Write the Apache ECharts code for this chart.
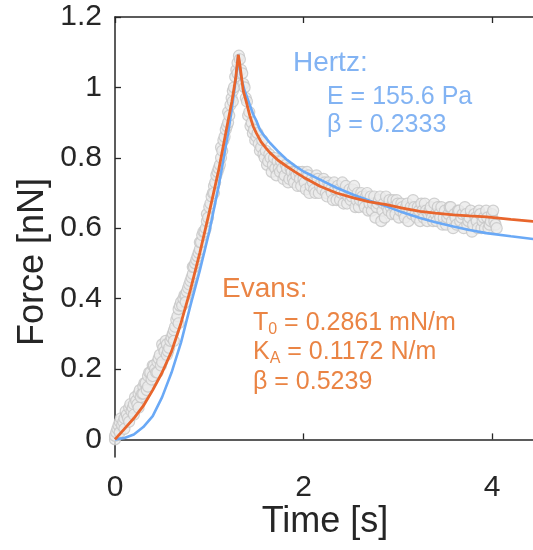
<!DOCTYPE html>
<html>
<head>
<meta charset="utf-8">
<script src="https://cdn.jsdelivr.net/npm/echarts@6/dist/echarts.min.js"></script>
<style>
  html, body { margin: 0; padding: 0; background: #fff; }
  #chart { width: 533px; height: 550px; }
</style>
</head>
<body>
<div id="chart"></div>
<script>
// Measured force during the indentation ramp
const loadingPoints = [
  [0.000, 0.00], [0.000, 0.01], [0.0125, 0.02], [0.025, 0.03], [0.0375, 0.04],
  [0.050, 0.02], [0.050, 0.05], [0.0625, 0.06], [0.075, 0.04], [0.0875, 0.05],
  [0.100, 0.06], [0.100, 0.03], [0.1125, 0.08], [0.125, 0.07], [0.1375, 0.06],
  [0.150, 0.05], [0.150, 0.09], [0.1625, 0.10], [0.175, 0.08], [0.1875, 0.09],
  [0.200, 0.10], [0.200, 0.07], [0.2125, 0.12], [0.225, 0.11], [0.2375, 0.10],
  [0.250, 0.13], [0.250, 0.09], [0.2625, 0.14], [0.275, 0.12], [0.2875, 0.13],
  [0.300, 0.15], [0.300, 0.13], [0.3125, 0.16], [0.325, 0.16], [0.3375, 0.14],
  [0.350, 0.18], [0.350, 0.15], [0.3625, 0.19], [0.375, 0.19], [0.3875, 0.17],
  [0.400, 0.18], [0.400, 0.21], [0.4125, 0.21], [0.425, 0.20], [0.4375, 0.19],
  [0.450, 0.22], [0.450, 0.19], [0.4625, 0.23], [0.475, 0.24], [0.4875, 0.21],
  [0.500, 0.22], [0.500, 0.27], [0.5125, 0.26], [0.525, 0.25], [0.5375, 0.28],
  [0.550, 0.27], [0.550, 0.24], [0.5625, 0.25], [0.575, 0.26], [0.5875, 0.28],
  [0.600, 0.29], [0.6125, 0.30], [0.625, 0.31], [0.625, 0.28], [0.6375, 0.32],
  [0.650, 0.34], [0.6625, 0.35], [0.675, 0.37], [0.675, 0.33], [0.6875, 0.38],
  [0.700, 0.39], [0.7125, 0.38], [0.725, 0.40], [0.7375, 0.41], [0.750, 0.41],
  [0.750, 0.39], [0.7625, 0.42], [0.775, 0.43], [0.7875, 0.44], [0.800, 0.45],
  [0.8125, 0.46], [0.825, 0.47], [0.825, 0.49], [0.8375, 0.49], [0.850, 0.50],
  [0.8625, 0.51], [0.875, 0.52], [0.8875, 0.53], [0.900, 0.54], [0.900, 0.56],
  [0.9125, 0.56], [0.925, 0.58], [0.9375, 0.59], [0.950, 0.59], [0.9625, 0.60],
  [0.975, 0.62], [0.975, 0.64], [0.9875, 0.63], [1.000, 0.66], [1.0125, 0.67],
  [1.025, 0.69], [1.0375, 0.70], [1.050, 0.72], [1.050, 0.70], [1.0625, 0.73],
  [1.075, 0.75], [1.0875, 0.76], [1.100, 0.77], [1.1125, 0.78], [1.125, 0.80],
  [1.125, 0.83], [1.1375, 0.82], [1.150, 0.85], [1.1625, 0.86], [1.175, 0.88],
  [1.1875, 0.89], [1.200, 0.90], [1.200, 0.93], [1.2125, 0.92], [1.225, 0.95],
  [1.2375, 0.97], [1.250, 0.99], [1.250, 0.96], [1.2625, 1.00], [1.275, 1.03],
  [1.2875, 1.05], [1.300, 1.07], [1.300, 1.04], [1.315, 1.09]
];

// Measured force while the indentation is held (relaxation)
const relaxationPoints = [
  [1.325, 1.08], [1.3375, 1.05], [1.350, 1.04], [1.3625, 1.01], [1.375, 1.00],
  [1.3875, 0.97], [1.400, 0.96], [1.4125, 0.92], [1.425, 0.93], [1.4375, 0.89],
  [1.450, 0.90], [1.4625, 0.87], [1.475, 0.88], [1.4875, 0.85], [1.500, 0.86],
  [1.5125, 0.87], [1.525, 0.84], [1.5375, 0.82], [1.550, 0.83], [1.5625, 0.85],
  [1.575, 0.81], [1.5875, 0.80], [1.600, 0.82], [1.6125, 0.78], [1.625, 0.79],
  [1.6375, 0.81], [1.650, 0.80], [1.6625, 0.76], [1.675, 0.78], [1.6875, 0.80],
  [1.700, 0.77], [1.7125, 0.75], [1.725, 0.79], [1.7375, 0.77], [1.750, 0.76],
  [1.7625, 0.79], [1.775, 0.77], [1.7875, 0.74], [1.800, 0.75], [1.8125, 0.78],
  [1.825, 0.77], [1.8375, 0.73], [1.850, 0.74], [1.8625, 0.77], [1.875, 0.76],
  [1.8875, 0.74], [1.900, 0.73], [1.9125, 0.76], [1.925, 0.75], [1.9375, 0.72],
  [1.950, 0.76], [1.9625, 0.74], [1.975, 0.72], [1.9875, 0.76], [2.000, 0.74],
  [2.0125, 0.73], [2.025, 0.71], [2.0375, 0.76], [2.050, 0.75], [2.0625, 0.70],
  [2.075, 0.72], [2.0875, 0.74], [2.100, 0.73], [2.1125, 0.71], [2.125, 0.70],
  [2.1375, 0.75], [2.150, 0.74], [2.1625, 0.70], [2.175, 0.72], [2.1875, 0.73],
  [2.200, 0.71], [2.2125, 0.74], [2.225, 0.73], [2.2375, 0.70], [2.250, 0.69],
  [2.2625, 0.73], [2.275, 0.72], [2.2875, 0.71], [2.300, 0.70], [2.3125, 0.68],
  [2.325, 0.73], [2.3375, 0.71], [2.350, 0.68], [2.3625, 0.72], [2.375, 0.71],
  [2.3875, 0.68], [2.400, 0.70], [2.4125, 0.73], [2.425, 0.67], [2.4375, 0.70],
  [2.450, 0.72], [2.4625, 0.67], [2.475, 0.69], [2.4875, 0.71], [2.500, 0.68],
  [2.5125, 0.69], [2.525, 0.71], [2.5375, 0.72], [2.550, 0.66], [2.5625, 0.68],
  [2.575, 0.70], [2.5875, 0.66], [2.600, 0.68], [2.6125, 0.70], [2.625, 0.69],
  [2.6375, 0.67], [2.650, 0.66], [2.6625, 0.69], [2.675, 0.70], [2.6875, 0.65],
  [2.700, 0.67], [2.7125, 0.69], [2.725, 0.65], [2.7375, 0.67], [2.750, 0.69],
  [2.7625, 0.63], [2.775, 0.66], [2.7875, 0.67], [2.800, 0.68], [2.8125, 0.69],
  [2.825, 0.62], [2.8375, 0.65], [2.850, 0.67], [2.8625, 0.63], [2.875, 0.69],
  [2.8875, 0.66], [2.900, 0.65], [2.9125, 0.68], [2.925, 0.66], [2.9375, 0.64],
  [2.950, 0.68], [2.9625, 0.66], [2.975, 0.64], [2.9875, 0.68], [3.000, 0.67],
  [3.0125, 0.63], [3.025, 0.65], [3.0375, 0.67], [3.050, 0.66], [3.0625, 0.64],
  [3.075, 0.63], [3.0875, 0.66], [3.100, 0.67], [3.1125, 0.62], [3.125, 0.65],
  [3.1375, 0.66], [3.150, 0.64], [3.1625, 0.68], [3.175, 0.66], [3.1875, 0.64],
  [3.200, 0.63], [3.2125, 0.66], [3.225, 0.65], [3.2375, 0.62], [3.250, 0.67],
  [3.2625, 0.65], [3.275, 0.63], [3.2875, 0.67], [3.300, 0.65], [3.3125, 0.62],
  [3.325, 0.64], [3.3375, 0.65], [3.350, 0.66], [3.3625, 0.63], [3.375, 0.62],
  [3.3875, 0.67], [3.400, 0.64], [3.4125, 0.62], [3.425, 0.66], [3.4375, 0.64],
  [3.450, 0.63], [3.4625, 0.66], [3.475, 0.61], [3.4875, 0.63], [3.500, 0.65],
  [3.5125, 0.61], [3.525, 0.63], [3.5375, 0.64], [3.550, 0.66], [3.5625, 0.66],
  [3.575, 0.62], [3.5875, 0.60], [3.600, 0.64], [3.6125, 0.63], [3.625, 0.61],
  [3.6375, 0.65], [3.650, 0.65], [3.6625, 0.62], [3.675, 0.63], [3.6875, 0.64],
  [3.700, 0.60], [3.7125, 0.66], [3.725, 0.64], [3.7375, 0.61], [3.750, 0.62],
  [3.7625, 0.63], [3.775, 0.65], [3.7875, 0.59], [3.800, 0.61], [3.8125, 0.64],
  [3.825, 0.63], [3.8375, 0.62], [3.850, 0.60], [3.8625, 0.65], [3.875, 0.64],
  [3.8875, 0.60], [3.900, 0.62], [3.9125, 0.63], [3.925, 0.60], [3.9375, 0.65],
  [3.950, 0.63], [3.9625, 0.60], [3.975, 0.61], [3.9875, 0.62], [4.000, 0.64],
  [4.0125, 0.65], [4.025, 0.62], [4.0375, 0.61], [4.050, 0.60]
];

// Hertz fit
const hertzTime = [0, 0.1, 0.2, 0.3, 0.4, 0.5, 0.6, 0.7, 0.8, 0.9, 1.0, 1.1, 1.2, 1.24, 1.28,
  1.308, 1.325, 1.344, 1.37, 1.397, 1.43, 1.467, 1.5, 1.538, 1.59, 1.645, 1.73, 1.82, 1.91,
  2.0, 2.175, 2.35, 2.53, 2.7, 2.88, 3.05, 3.236, 3.4, 3.59, 3.76, 3.94, 4.2, 4.44];
const hertzForce = [0, 0.004, 0.014, 0.035, 0.066, 0.12, 0.19, 0.275, 0.38, 0.48, 0.59, 0.72, 0.87, 0.94, 1.02,
  1.093, 1.05, 1.022, 0.995, 0.975, 0.95, 0.923, 0.905, 0.88, 0.86, 0.842, 0.818, 0.795, 0.777,
  0.761, 0.738, 0.715, 0.695, 0.678, 0.662, 0.645, 0.629, 0.617, 0.605, 0.595, 0.586, 0.577, 0.569];

// Evans fit
const evansTime = [0, 0.1, 0.2, 0.3, 0.4, 0.5, 0.6, 0.7, 0.8, 0.9, 1.0, 1.1, 1.2, 1.24, 1.28,
  1.308, 1.322, 1.337, 1.361, 1.397, 1.43, 1.467, 1.5, 1.55, 1.6, 1.645, 1.73, 1.82, 1.91,
  2.0, 2.175, 2.35, 2.53, 2.7, 2.88, 3.05, 3.236, 3.4, 3.59, 3.76, 3.94, 4.2, 4.44];
const evansForce = [0, 0.03, 0.06, 0.095, 0.14, 0.19, 0.25, 0.33, 0.425, 0.53, 0.645, 0.765, 0.905, 0.96, 1.025,
  1.093, 1.07, 1.04, 0.99, 0.955, 0.92, 0.889, 0.87, 0.845, 0.828, 0.814, 0.793, 0.776, 0.76,
  0.745, 0.719, 0.70, 0.686, 0.675, 0.667, 0.657, 0.648, 0.643, 0.638, 0.635, 0.632, 0.625, 0.619];

const xTicks = [0, 2, 4];
const yTicks = [0, 0.2, 0.4, 0.6, 0.8, 1.0, 1.2];

const FONT = '"Liberation Sans", Arial, Helvetica, sans-serif';
const AXIS = '#262626';
const BLUE_LINE = '#6aa9f6';
const BLUE_TEXT = '#82b3f3';
const ORANGE_LINE = '#e8652c';
const ORANGE_TEXT = '#ea8444';

const zip = (xs, ys) => xs.map((x, i) => [x, ys[i]]);

const chart = echarts.init(document.getElementById('chart'), null, { renderer: 'canvas' });

const axisLine = { show: true, lineStyle: { color: AXIS, width: 1.5 } };
const tickStyle = { color: AXIS, width: 1.3 };

// main text plus a lowered, smaller subscript
const subRich = {
  m: { fontSize: 25, fontFamily: FONT, fill: ORANGE_TEXT, lineHeight: 30 },
  s: { fontSize: 16, fontFamily: FONT, fill: ORANGE_TEXT, lineHeight: 19, verticalAlign: 'bottom' }
};

const option = {
  animation: false,
  backgroundColor: '#ffffff',
  grid: { left: 115, right: 0, top: 17, bottom: 93, containLabel: false },
  xAxis: [
    {
      type: 'value', position: 'bottom', min: 0, max: 4.435,
      axisLine,
      splitLine: { show: false },
      axisTick: { inside: true, length: 6, lineStyle: tickStyle, customValues: xTicks },
      axisLabel: { customValues: xTicks, margin: 16, color: AXIS, fontSize: 30, fontFamily: FONT }
    },
    {
      type: 'value', position: 'top', min: 0, max: 4.435,
      axisLine,
      splitLine: { show: false },
      axisTick: { inside: true, length: 6, lineStyle: tickStyle, customValues: xTicks },
      axisLabel: { show: false }
    }
  ],
  yAxis: {
    type: 'value', min: -0.05, max: 1.2,
    axisLine,
    splitLine: { show: false },
    axisTick: { inside: true, length: 6, lineStyle: tickStyle, customValues: yTicks },
    axisLabel: { customValues: yTicks, margin: 13, color: AXIS, fontSize: 30, fontFamily: FONT }
  },
  series: [
    {
      type: 'scatter',
      data: loadingPoints.concat(relaxationPoints),
      symbol: 'circle',
      symbolSize: 11,
      itemStyle: { color: '#ebebeb', borderColor: '#c6c6c6', borderWidth: 1.2 },
      z: 2
    },
    {
      type: 'line',
      data: zip(hertzTime, hertzForce),
      showSymbol: false,
      lineStyle: { color: BLUE_LINE, width: 2.6 },
      z: 3
    },
    {
      type: 'line',
      data: zip(evansTime, evansForce),
      showSymbol: false,
      lineStyle: { color: ORANGE_LINE, width: 2.8 },
      z: 4
    }
  ],
  graphic: [
    // axis titles
    {
      type: 'text', x: 325, y: 522,
      style: { text: 'Time [s]', font: '36px ' + FONT, fill: AXIS, textAlign: 'center', textVerticalAlign: 'middle' }
    },
    {
      type: 'text', x: 33, y: 262, rotation: Math.PI / 2,
      style: { text: 'Force [nN]', font: '36px ' + FONT, fill: AXIS, textAlign: 'center', textVerticalAlign: 'middle' }
    },
    // Hertz fit parameters
    {
      type: 'text', x: 293, y: 63,
      style: { text: 'Hertz:', font: '28px ' + FONT, fill: BLUE_TEXT, textAlign: 'left', textVerticalAlign: 'middle' }
    },
    {
      type: 'text', x: 327, y: 97,
      style: { text: 'E = 155.6 Pa', font: '25px ' + FONT, fill: BLUE_TEXT, textAlign: 'left', textVerticalAlign: 'middle' }
    },
    {
      type: 'text', x: 327, y: 125,
      style: { text: 'β = 0.2333', font: '25px ' + FONT, fill: BLUE_TEXT, textAlign: 'left', textVerticalAlign: 'middle' }
    },
    // Evans fit parameters
    {
      type: 'text', x: 222, y: 289,
      style: { text: 'Evans:', font: '28px ' + FONT, fill: ORANGE_TEXT, textAlign: 'left', textVerticalAlign: 'middle' }
    },
    {
      type: 'text', x: 253, y: 323,
      style: {
        text: '{m|T}{s|0}{m| = 0.2861 mN/m}',
        textAlign: 'left', textVerticalAlign: 'middle',
        rich: subRich
      }
    },
    {
      type: 'text', x: 253, y: 352,
      style: {
        text: '{m|K}{s|A}{m| = 0.1172 N/m}',
        textAlign: 'left', textVerticalAlign: 'middle',
        rich: subRich
      }
    },
    {
      type: 'text', x: 253, y: 382,
      style: { text: 'β = 0.5239', font: '25px ' + FONT, fill: ORANGE_TEXT, textAlign: 'left', textVerticalAlign: 'middle' }
    }
  ]
};

chart.setOption(option);
</script>
</body>
</html>
